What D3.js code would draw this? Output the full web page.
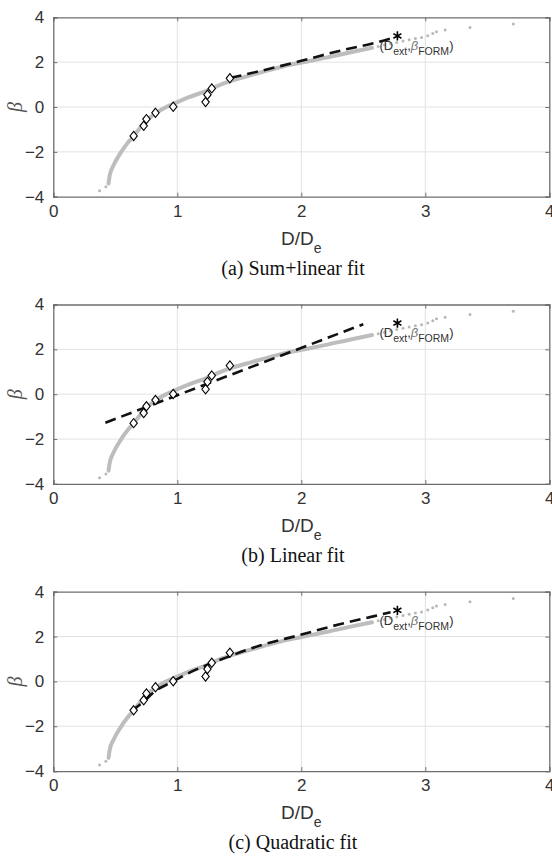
<!DOCTYPE html>
<html>
<head>
<meta charset="utf-8">
<script src="https://cdn.jsdelivr.net/npm/d3@7"></script>
<style>
  body { margin: 0; background: #fff; }
  svg { display: block; }
</style>
</head>
<body>
<script>

// Axis ticks.
var xTicks = [0, 1, 2, 3, 4];
var yTicks = [-4, -2, 0, 2, 4];

// Panel captions.
var captions = ['(a) Sum+linear fit', '(b) Linear fit', '(c) Quadratic fit'];

// Sampled beta curve, dense part.
var curveD =    [0.446, 0.455, 0.486, 0.54, 0.60, 0.648, 0.70, 0.75, 0.824, 0.90, 1.0, 1.1, 1.24, 1.35, 1.42, 1.6, 1.86, 2.0, 2.2, 2.38, 2.57];
var curveBeta = [-3.41, -3.05, -2.6, -2.07, -1.6, -1.3, -0.93, -0.62, -0.28, -0.03, 0.22, 0.45, 0.73, 1.0, 1.14, 1.43, 1.82, 1.98, 2.2, 2.42, 2.64];

// Sampled beta curve, sparse points.
var tailD =    [0.373, 0.424, 2.62, 2.67, 2.72, 2.77, 2.82, 2.87, 2.92, 2.97, 3.02, 3.06, 3.09, 3.16, 3.36, 3.71];
var tailBeta = [-3.73, -3.56, 2.7, 2.76, 2.82, 2.88, 2.94, 3.0, 3.05, 3.1, 3.18, 3.28, 3.36, 3.43, 3.55, 3.70];

// Design points.
var pointD =    [0.648, 0.729, 0.751, 0.824, 0.967, 1.228, 1.243, 1.278, 1.424];
var pointBeta = [-1.29, -0.84, -0.54, -0.26, 0.01, 0.22, 0.55, 0.83, 1.28];

// Fitted curves, one per panel.
var fitSumLinearD =    [1.43, 1.65, 2.0, 2.32, 2.62, 2.76];
var fitSumLinearBeta = [1.3, 1.58, 2.06, 2.52, 2.9, 3.12];
var fitLinearD =       [0.42, 2.5];
var fitLinearBeta =    [-1.27, 3.12];
var fitQuadD =         [0.632, 0.74, 0.806, 0.955, 1.076, 1.398, 1.667, 1.99, 2.31, 2.58, 2.72];
var fitQuadBeta =      [-1.3, -0.85, -0.5, -0.03, 0.33, 1.07, 1.6, 2.07, 2.55, 2.9, 3.08];

// Extrapolated point.
var extD = 2.775;
var extBeta = 3.17;

var fits = [
  [fitSumLinearD, fitSumLinearBeta],
  [fitLinearD, fitLinearBeta],
  [fitQuadD, fitQuadBeta]
];

// Layout.
var width = 552, height = 861;
var left = 53.3, right = 549.3;
var panelTop = 17.3, panelHeight = 179.4, panelStep = 287.2;

var svg = d3.select('body').append('svg')
  .attr('width', width)
  .attr('height', height);

var sans = 'Liberation Sans, Arial, sans-serif';
var serif = 'Liberation Serif, Times New Roman, serif';

/*
 * Zip two value arrays into points.
 */
function zip(xs, ys) {
  return xs.map(function(x, i) { return [x, ys[i]]; });
}

/*
 * Draw one panel.
 */
function drawPanel(i) {

  var top = panelTop + i * panelStep;
  var bottom = top + panelHeight;

  // Scales.
  var x = d3.scaleLinear().domain([0, 4]).range([left, right]);
  var y = d3.scaleLinear().domain([-4, 4]).range([bottom, top]);
  var fmt = d3.format('d');

  var g = svg.append('g');

  // Grid.
  g.append('g').selectAll('line').data(xTicks.slice(1, -1)).join('line')
    .attr('x1', function(d) { return x(d); })
    .attr('x2', function(d) { return x(d); })
    .attr('y1', top).attr('y2', bottom)
    .attr('stroke', '#e2e2e2').attr('stroke-width', 1);
  g.append('g').selectAll('line').data(yTicks.slice(1, -1)).join('line')
    .attr('y1', function(d) { return y(d); })
    .attr('y2', function(d) { return y(d); })
    .attr('x1', left).attr('x2', right)
    .attr('stroke', '#e2e2e2').attr('stroke-width', 1);

  // Axes with inward ticks on all four sides.
  var axes = [
    [d3.axisBottom(x).tickValues(xTicks).tickFormat(fmt).tickSize(-4).tickPadding(8), 'translate(0,' + bottom + ')'],
    [d3.axisTop(x).tickValues(xTicks).tickSize(-4).tickFormat(''), 'translate(0,' + top + ')'],
    [d3.axisLeft(y).tickValues(yTicks).tickFormat(fmt).tickSize(-4).tickPadding(9), 'translate(' + left + ',0)'],
    [d3.axisRight(y).tickValues(yTicks).tickSize(-4).tickFormat(''), 'translate(' + right + ',0)']
  ];
  axes.forEach(function(a) {
    var ax = g.append('g').attr('transform', a[1]).call(a[0]);
    ax.select('.domain').attr('stroke', '#6e6e6e').attr('stroke-width', 1.3);
    ax.selectAll('.tick line').attr('stroke', '#6e6e6e').attr('stroke-width', 1);
    ax.selectAll('.tick text')
      .attr('font-family', sans)
      .attr('font-size', 17)
      .attr('fill', '#333');
  });

  // Sampled beta curve.
  var line = d3.line()
    .x(function(d) { return x(d[0]); })
    .y(function(d) { return y(d[1]); })
    .curve(d3.curveMonotoneX);
  g.append('path')
    .attr('d', line(zip(curveD, curveBeta)))
    .attr('fill', 'none')
    .attr('stroke', '#bdbdbd')
    .attr('stroke-width', 4)
    .attr('stroke-linecap', 'round');
  g.append('g').selectAll('circle').data(zip(tailD, tailBeta)).join('circle')
    .attr('cx', function(d) { return x(d[0]); })
    .attr('cy', function(d) { return y(d[1]); })
    .attr('r', 1.5)
    .attr('fill', '#b8b8b8');

  // Fit.
  g.append('path')
    .attr('d', line(zip(fits[i][0], fits[i][1])))
    .attr('fill', 'none')
    .attr('stroke', '#111')
    .attr('stroke-width', 2.6)
    .attr('stroke-dasharray', '11,6');

  // Design points.
  g.append('g').selectAll('path').data(zip(pointD, pointBeta)).join('path')
    .attr('transform', function(d) { return 'translate(' + x(d[0]) + ',' + y(d[1]) + ')'; })
    .attr('d', 'M0,-4.6L3.7,0L0,4.6L-3.7,0Z')
    .attr('fill', '#fff')
    .attr('stroke', '#000')
    .attr('stroke-width', 1.1);

  // Extrapolated point and its label.
  g.append('path')
    .attr('transform', 'translate(' + x(extD) + ',' + y(extBeta) + ')')
    .attr('d', d3.symbol(d3.symbolAsterisk, 60)())
    .attr('fill', 'none')
    .attr('stroke', '#000')
    .attr('stroke-width', 1.6);

  var lab = g.append('text')
    .attr('x', x(2.63))
    .attr('y', y(2.53))
    .attr('font-family', sans)
    .attr('font-size', 13)
    .attr('fill', '#333');
  lab.append('tspan').text('(D');
  lab.append('tspan').attr('font-size', 10.5).attr('dy', 5).text('ext');
  lab.append('tspan').attr('dy', -5).text(',');
  lab.append('tspan').attr('font-style', 'italic').attr('fill', '#777').text('β');
  lab.append('tspan').attr('font-size', 10.5).attr('dy', 5).text('FORM');
  lab.append('tspan').attr('dy', -5).text(')');

  // Axis titles.
  var xt = g.append('text')
    .attr('x', (left + right) / 2)
    .attr('y', bottom + 48)
    .attr('text-anchor', 'middle')
    .attr('font-family', sans)
    .attr('font-size', 19)
    .attr('fill', '#333');
  xt.append('tspan').text('D/D');
  xt.append('tspan').attr('font-size', 14).attr('dy', 8).text('e');

  g.append('text')
    .attr('transform', 'translate(22,' + ((top + bottom) / 2) + ') rotate(-90)')
    .attr('text-anchor', 'middle')
    .attr('font-family', serif)
    .attr('font-style', 'italic')
    .attr('font-size', 20)
    .attr('fill', '#555')
    .text('β');

  // Caption.
  g.append('text')
    .attr('x', 293)
    .attr('y', bottom + 78)
    .attr('text-anchor', 'middle')
    .attr('font-family', serif)
    .attr('font-size', 20)
    .attr('fill', '#111')
    .text(captions[i]);

}

captions.forEach(function(c, i) { drawPanel(i); });

</script>
</body>
</html>
